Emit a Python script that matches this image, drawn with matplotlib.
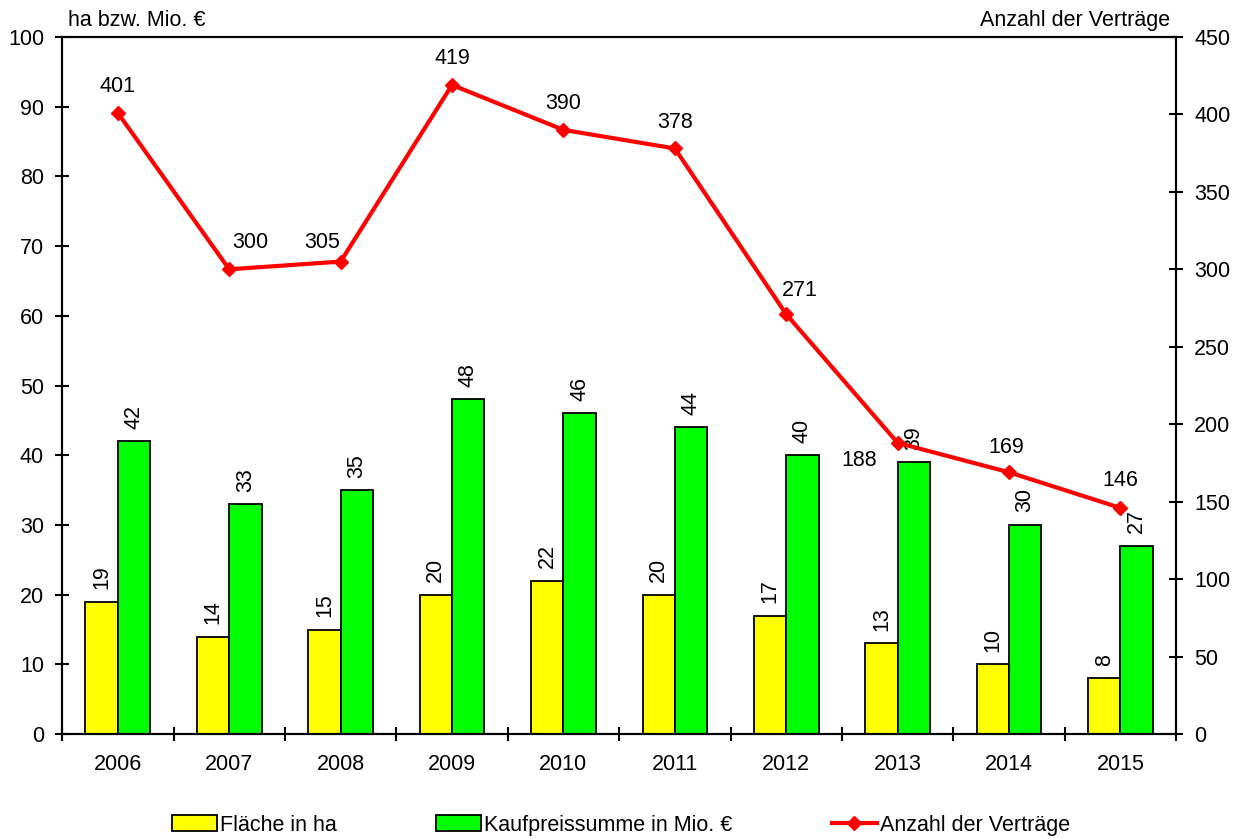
import matplotlib.pyplot as plt
import numpy as np
from matplotlib.ticker import MultipleLocator, FixedLocator

plt.rcParams['font.family'] = ['Liberation Sans', 'DejaVu Sans']

years = ['2006', '2007', '2008', '2009', '2010', '2011', '2012', '2013', '2014', '2015']
flaeche = [19, 14, 15, 20, 22, 20, 17, 13, 10, 8]
kaufpreis = [42, 33, 35, 48, 46, 44, 40, 39, 30, 27]
vertraege = [401, 300, 305, 419, 390, 378, 271, 188, 169, 146]

# label offsets for the line values (points)
line_offsets = [(0, 19), (15, 19), (-13, 14), (0, 19), (0, 19), (0, 19), (10, 17), (-28, -13), (-2, 18), (0, 20)]

fs = 15.5

fig = plt.figure(figsize=(12.42, 8.39), dpi=100)
ax = fig.add_axes([0.05, 0.125, 0.897, 0.831])
ax2 = ax.twinx()

x = np.arange(len(years))
w = 0.29
b1 = ax.bar(x - w / 2, flaeche, w, color='#ffff00', edgecolor='black', linewidth=1.3,
            label='Fläche in ha', zorder=2)
b2 = ax.bar(x + w / 2, kaufpreis, w, color='#00ff00', edgecolor='black', linewidth=1.3,
            label='Kaufpreissumme in Mio. €', zorder=2)

for xi, v in zip(x, flaeche):
    ax.annotate(str(v), (xi - w / 2, v), xytext=(0, 9), textcoords='offset points',
                rotation=90, ha='center', va='bottom', fontsize=fs)
for xi, v in zip(x, kaufpreis):
    ax.annotate(str(v), (xi + w / 2, v), xytext=(0, 9), textcoords='offset points',
                rotation=90, ha='center', va='bottom', fontsize=fs)

ln, = ax2.plot(x, vertraege, color='#ff0000', linewidth=3, marker='D', markersize=7,
               label='Anzahl der Verträge', zorder=3)
for xi, v, off in zip(x, vertraege, line_offsets):
    ax2.annotate(str(v), (xi, v), xytext=off, textcoords='offset points',
                 ha='center', va='center', fontsize=fs)

ax.set_xlim(-0.5, len(years) - 0.5)
ax.set_ylim(0, 100)
ax2.set_ylim(0, 450)
ax.yaxis.set_major_locator(MultipleLocator(10))
ax2.yaxis.set_major_locator(MultipleLocator(50))

ax.set_xticks(x)
ax.set_xticklabels(years)
ax.xaxis.set_minor_locator(FixedLocator(np.arange(-0.5, len(years), 1.0)))
ax.tick_params(axis='x', which='major', length=0, labelsize=fs, pad=14)
ax.tick_params(axis='x', which='minor', length=10, width=1.5, direction='inout')
ax.tick_params(axis='y', length=10, width=1.5, direction='inout', labelsize=fs, pad=8)
ax2.tick_params(axis='y', length=10, width=1.5, direction='inout', labelsize=fs, pad=8)

for a in (ax, ax2):
    for s in a.spines.values():
        s.set_linewidth(1.5)

ax.text(0.005, 1.008, 'ha bzw. Mio. €', transform=ax.transAxes, ha='left', va='bottom',
        fontsize=fs)
ax2.text(0.995, 1.008, 'Anzahl der Verträge', transform=ax2.transAxes, ha='right',
         va='bottom', fontsize=fs)

fig.legend(handles=[b1, b2, ln], loc='lower center', bbox_to_anchor=(0.5, -0.019), ncol=3,
           frameon=False, fontsize=fs, columnspacing=4.6, handlelength=2.1, handletextpad=0.15)

fig.savefig('out.png', dpi=100)
